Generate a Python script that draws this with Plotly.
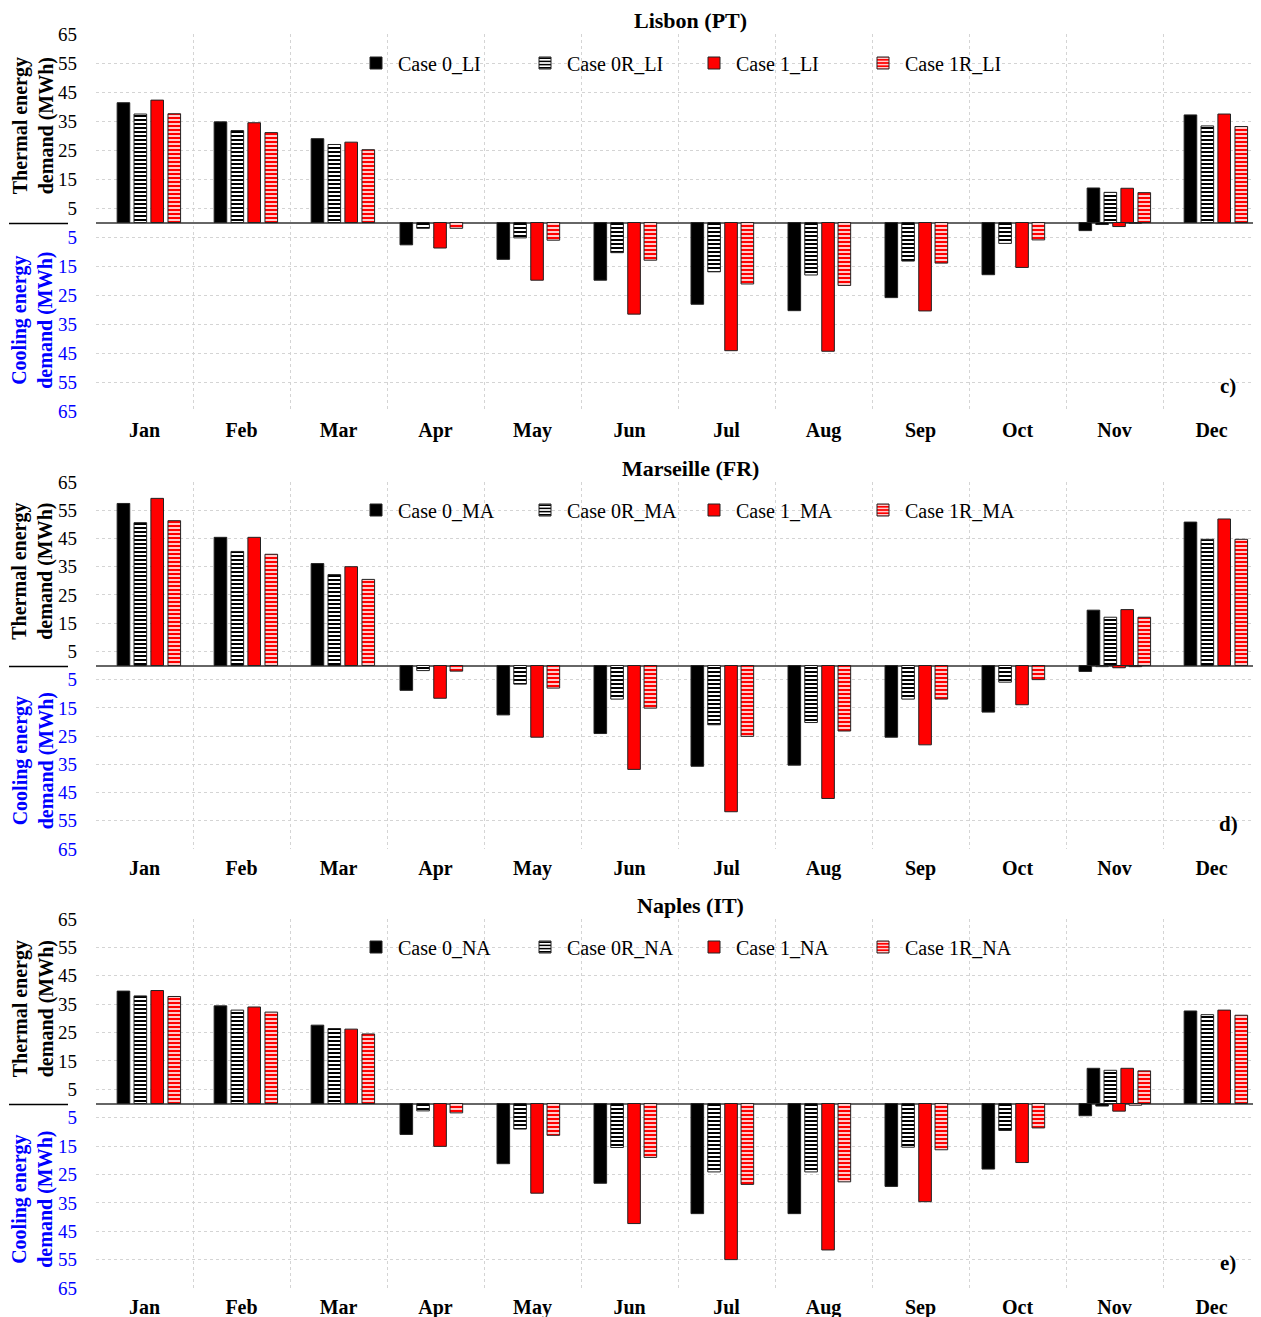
import plotly.graph_objects as go

# page offset of the browser (default body margin)
OFF = 8
W, H = 1261 - OFF, 1330
FONT = "Liberation Serif"

months = ["Jan", "Feb", "Mar", "Apr", "May", "Jun", "Jul", "Aug", "Sep", "Oct", "Nov", "Dec"]
cases = ["Case 0", "Case 0R", "Case 1", "Case 1R"]
cities = ["Lisbon (PT)", "Marseille (FR)", "Naples (IT)"]
suffixes = ["LI", "MA", "NA"]
panel_tags = ["c)", "d)", "e)"]
N = None

# Heating (thermal) demand, MWh
li_heat_0 = [41.3, 34.7, 28.9, N, N, N, N, N, N, N, 11.9, 37.1]
li_heat_0R = [37.4, 31.7, 26.9, N, N, N, N, N, N, N, 10.4, 33.3]
li_heat_1 = [42.2, 34.4, 27.7, N, N, N, N, N, N, N, 11.8, 37.4]
li_heat_1R = [37.5, 31.0, 25.1, N, N, N, N, N, N, N, 10.3, 33.1]
# Cooling demand, MWh
li_cool_0 = [N, N, N, 7.7, 12.7, 19.9, 28.2, 30.4, 25.9, 18.0, 2.8, N]
li_cool_0R = [N, N, N, 2.0, 5.3, 10.4, 17.0, 18.1, 13.3, 7.2, 0.7, N]
li_cool_1 = [N, N, N, 8.8, 19.9, 31.6, 44.2, 44.4, 30.5, 15.5, 1.4, N]
li_cool_1R = [N, N, N, 2.0, 6.1, 13.0, 21.2, 21.7, 14.0, 6.0, 0.3, N]

ma_heat_0 = [57.4, 45.4, 36.1, N, N, N, N, N, N, N, 19.6, 50.8]
ma_heat_0R = [50.6, 40.4, 32.2, N, N, N, N, N, N, N, 17.1, 44.7]
ma_heat_1 = [59.2, 45.4, 35.0, N, N, N, N, N, N, N, 19.8, 51.9]
ma_heat_1R = [51.3, 39.4, 30.5, N, N, N, N, N, N, N, 17.1, 44.7]
ma_cool_0 = [N, N, N, 8.8, 17.5, 24.1, 35.7, 35.3, 25.4, 16.5, 2.1, N]
ma_cool_0R = [N, N, N, 1.8, 6.6, 11.9, 21.0, 20.2, 11.9, 5.9, 0.4, N]
ma_cool_1 = [N, N, N, 11.6, 25.4, 36.8, 51.8, 47.1, 28.1, 13.9, 0.8, N]
ma_cool_1R = [N, N, N, 2.0, 8.0, 15.1, 25.1, 23.2, 11.9, 5.0, 0.4, N]

na_heat_0 = [39.6, 34.4, 27.6, N, N, N, N, N, N, N, 12.4, 32.6]
na_heat_0R = [37.9, 32.9, 26.4, N, N, N, N, N, N, N, 11.7, 31.3]
na_heat_1 = [39.8, 34.0, 26.2, N, N, N, N, N, N, N, 12.4, 32.9]
na_heat_1R = [37.7, 32.2, 24.5, N, N, N, N, N, N, N, 11.5, 31.1]
na_cool_0 = [N, N, N, 10.9, 21.2, 28.1, 38.8, 38.8, 29.2, 23.1, 4.3, N]
na_cool_0R = [N, N, N, 2.6, 9.0, 15.5, 24.1, 24.1, 15.4, 9.5, 0.9, N]
na_cool_1 = [N, N, N, 15.1, 31.6, 42.3, 55.0, 51.6, 34.6, 20.8, 2.7, N]
na_cool_1R = [N, N, N, 3.3, 11.2, 19.0, 28.5, 27.6, 16.3, 8.6, 0.6, N]

tick_vals = [65, 55, 45, 35, 25, 15, 5, -5, -15, -25, -35, -45, -55, -65]

heat_sets = [
    [li_heat_0, li_heat_0R, li_heat_1, li_heat_1R],
    [ma_heat_0, ma_heat_0R, ma_heat_1, ma_heat_1R],
    [na_heat_0, na_heat_0R, na_heat_1, na_heat_1R],
]
cool_sets = [
    [li_cool_0, li_cool_0R, li_cool_1, li_cool_1R],
    [ma_cool_0, ma_cool_0R, ma_cool_1, ma_cool_1R],
    [na_cool_0, na_cool_0R, na_cool_1, na_cool_1R],
]

# styles
fills = ["black", "white", "red", "white"]
patterns = [
    None,
    dict(shape="-", fgcolor="black", bgcolor="white", size=4, solidity=0.5),
    None,
    dict(shape="-", fgcolor="white", bgcolor="red", size=4, solidity=0.4),
]
heat_off = [-0.282, -0.108, 0.066, 0.242]
cool_off = [-0.366, -0.193, -0.018, 0.150]
bar_w = 0.13

# panel geometry in screenshot pixels (top = +65, bottom = -65)
panel_px = [(34, 411), (482, 849), (919, 1288)]
legend_px_y = [63, 510, 947]
PL, PR = 96, 1260  # plot area left/right in screenshot px
L_M = PL - OFF
R_M = W - (PR - OFF)


def py(px):
    return 1 - (px - OFF) / H


def pxx(px):
    return (px - PL) / (PR - PL)


fig = go.Figure()
layout = dict(
    template="none",
    width=W, height=H,
    margin=dict(l=L_M, r=R_M, t=0, b=0, autoexpand=False),
    plot_bgcolor="white", paper_bgcolor="white",
    barmode="overlay",
    font=dict(family=FONT, size=19, color="black"),
    annotations=[], shapes=[],
)

tick_text = [str(v) if v > 0 else '<span style="color:#0000ff">%d</span>' % (-v) for v in tick_vals]

for i in range(3):
    k = "" if i == 0 else str(i + 1)
    xa, ya = "x" + k, "y" + k
    lg = "legend" + k
    for j in range(4):
        mk = dict(color=fills[j], line=dict(color="#222222", width=1))
        if patterns[j] is not None:
            mk["pattern"] = patterns[j]
        fig.add_trace(go.Bar(
            x=months, y=heat_sets[i][j], name=f"{cases[j]}_{suffixes[i]}",
            offset=heat_off[j], width=bar_w, marker=mk,
            xaxis=xa, yaxis=ya, legend=lg, showlegend=True,
        ))
    for j in range(4):
        mk = dict(color=fills[j], line=dict(color="#222222", width=1))
        if patterns[j] is not None:
            mk["pattern"] = patterns[j]
        fig.add_trace(go.Bar(
            x=months, y=[None if v is None else -v for v in cool_sets[i][j]],
            name=f"{cases[j]}_{suffixes[i]} cooling",
            offset=cool_off[j], width=bar_w, marker=mk,
            xaxis=xa, yaxis=ya, legend=lg, showlegend=False,
        ))

    top, bot = panel_px[i]
    zero_px = (top + bot) / 2
    layout["xaxis" + k] = dict(
        domain=[0, 1], anchor=ya, type="category",
        categoryorder="array", categoryarray=months,
        tickson="boundaries", ticks="", showgrid=True,
        gridcolor="#d4d4d4", griddash="3px,3px", gridwidth=1,
        tickfont=dict(family=FONT, size=20, weight="bold"),
        ticklabelstandoff=5, showline=False, zeroline=False,
        range=[-0.5, 11.5], automargin=False,
    )
    layout["yaxis" + k] = dict(
        domain=[py(bot), py(top)], anchor=xa, range=[-65, 65],
        tickmode="array", tickvals=tick_vals, ticktext=tick_text,
        ticks="", showgrid=True, gridcolor="#d4d4d4", griddash="3px,3px",
        gridwidth=1, zeroline=True, zerolinecolor="#666666", zerolinewidth=1.5,
        tickfont=dict(family=FONT, size=19, color="black"),
        ticklabelstandoff=18, showline=False, automargin=False,
    )
    layout[lg] = dict(
        orientation="h", x=pxx(354), xanchor="left",
        y=py(legend_px_y[i]), yanchor="middle",
        bgcolor="rgba(0,0,0,0)", font=dict(family=FONT, size=20),
        entrywidth=120, entrywidthmode="pixels", traceorder="normal",
        itemwidth=34,
    )
    # title
    layout["annotations"].append(dict(
        text="<b>%s</b>" % cities[i], x=pxx(690), y=py(top - 14),
        xref="paper", yref="paper", showarrow=False,
        font=dict(family=FONT, size=22), xanchor="center", yanchor="middle",
    ))
    # panel tag
    layout["annotations"].append(dict(
        text="<b>%s</b>" % panel_tags[i], x=pxx(1228), y=py(bot - 25),
        xref="paper", yref="paper", showarrow=False,
        font=dict(family=FONT, size=21), xanchor="center", yanchor="middle",
    ))
    # y-axis titles
    layout["annotations"].append(dict(
        text="<b>Thermal energy<br>demand (MWh)</b>", x=pxx(33), y=py((top + zero_px) / 2 - 2),
        xref="paper", yref="paper", showarrow=False, textangle=-90,
        font=dict(family=FONT, size=20, color="black"), xanchor="center", yanchor="middle",
    ))
    layout["annotations"].append(dict(
        text="<b>Cooling energy<br>demand (MWh)</b>", x=pxx(33), y=py((zero_px + bot) / 2 + 4),
        xref="paper", yref="paper", showarrow=False, textangle=-90,
        font=dict(family=FONT, size=20, color="#0000ff"), xanchor="center", yanchor="middle",
    ))
    layout["shapes"].append(dict(
        type="line", xref="paper", yref="paper",
        x0=pxx(9), x1=pxx(68), y0=py(zero_px + 1), y1=py(zero_px + 1),
        line=dict(color="black", width=1.5),
    ))

fig.update_layout(**layout)
fig.write_html("out.html")
